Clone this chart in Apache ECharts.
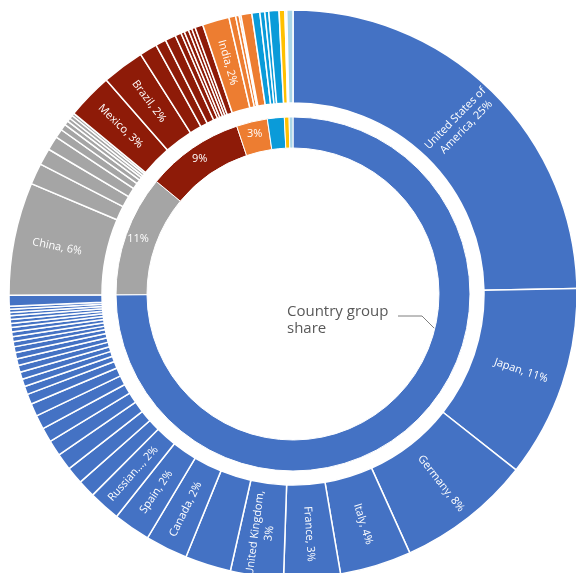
<!DOCTYPE html>
<html><head><meta charset="utf-8">
<script src="https://cdn.jsdelivr.net/npm/echarts@6/dist/echarts.min.js"></script>
<style>html,body{margin:0;padding:0;background:#fff}#c{width:576px;height:573px}</style>
</head><body><div id="c"></div>
<script>
// ---- data (outer ring, clockwise from 12 o'clock) ----
const blueNames = ['United States of America','Japan','Germany','Italy','France','United Kingdom','b7','Canada','Spain','Russian Federation',
  'b11','b12','b13','b14','b15','b16','b17','b18','b19','b20','b21','b22','b23','b24','b25','b26','b27','b28','b29','b30','b31','b32','b33','b34','b35','b36'];
const blueValues = [24.6,10.9,7.6,4.05,3.2,3.0,2.6,2.4,2.1,1.8,
  1.0,0.98,0.95,0.9,0.82,0.8,0.72,0.58,0.47,0.42,0.41,0.39,0.38,0.36,0.33,0.29,0.28,0.27,0.25,0.23,0.22,0.21,0.19,0.18,0.17,0.61];
const grayNames = ['China','g2','g3','g4','g5','g6','g7','g8','g9','g10'];
const grayValues = [6.4,1.2,0.95,0.8,0.5,0.35,0.25,0.2,0.2,0.15];
const redNames = ['Mexico','Brazil','r3','r4','r5','r6','r7','r8','r9','r10','r11'];
const redValues = [2.6,2.4,1.0,0.6,0.6,0.35,0.2,0.25,0.2,0.2,0.45];
const orangeNames = ['India','o2','o3','o4','o5'];
const orangeValues = [1.52,0.38,0.2,0.1,0.62];
const lblueNames = ['l1','l2','l3','l4'];
const lblueValues = [0.45,0.28,0.22,0.58];
const yellowNames = ['y1','y2'];
const yellowValues = [0.33,0.1];
const paleNames = ['p1'];
const paleValues = [0.35];
const labeledCountries = ['United States of America','Japan','Germany','Italy','France','United Kingdom','Canada','Spain','Russian Federation','China','Mexico','Brazil','India'];
const shortNames = {'Russian Federation':'Russian...'};
const groupLabeled = [true,true,true,true,false,false,false];

// ---- build ----
const groups = [
  {name:'Group 1', color:'#4472C4', names:blueNames, values:blueValues},
  {name:'Group 2', color:'#A5A5A5', names:grayNames, values:grayValues},
  {name:'Group 3', color:'#8E1B08', names:redNames, values:redValues},
  {name:'Group 4', color:'#ED7D31', names:orangeNames, values:orangeValues},
  {name:'Group 5', color:'#0A9BD9', names:lblueNames, values:lblueValues},
  {name:'Group 6', color:'#FFC000', names:yellowNames, values:yellowValues, colors:['#FFC000','#FFE699']},
  {name:'Group 7', color:'#A9D5E8', names:paleNames, values:paleValues}
];
let total = 0;
groups.forEach(g => g.values.forEach(v => total += v));
const outerData = [], innerData = [];
groups.forEach((g, gi) => {
  let s = 0;
  g.values.forEach((v, i) => {
    s += v;
    const nm = g.names[i];
    outerData.push({name:nm, value:v,
      itemStyle:{color: g.colors ? g.colors[i] : g.color},
      label:{show: labeledCountries.indexOf(nm) >= 0}});
  });
  innerData.push({name:g.name, value:s, itemStyle:{color:g.color},
    label:{show: groupLabeled[gi] && gi !== 0}});
});
const pct = v => Math.round(v / total * 100);
const font = '"Open Sans", "Noto Sans", sans-serif';
const cx = 293, cy = 294;

const chart = echarts.init(document.getElementById('c'), null, {renderer:'canvas'});
const option = {
  animation:false,
  series:[
    { type:'pie', center:[cx, cy], radius:[146, 177], startAngle:90, clockwise:true,
      data:innerData, silent:true,
      itemStyle:{borderColor:'#fff', borderWidth:1},
      label:{position:'inside', color:'#fff', fontSize:11, fontFamily:font,
        formatter:p => pct(p.value) + '%'},
      labelLine:{show:false}
    },
    { type:'pie', center:[cx, cy], radius:[191, 284], startAngle:90, clockwise:true,
      data:outerData, silent:true,
      itemStyle:{borderColor:'#fff', borderWidth:1.5},
      label:{position:'inside', rotate:'radial', color:'#fff', fontSize:11, fontFamily:font,
        width:92, overflow:'break', align:'center', lineHeight:14,
        formatter:p => (shortNames[p.name] || p.name) + ', ' + pct(p.value) + '%'},
      labelLine:{show:false}
    }
  ]
};
chart.setOption(option);

// "75%" label for the first group and the series annotation
const blueShare = innerData[0].value / total;
const ang = (108.3) * Math.PI / 180;
const rl = 161.5;
chart.setOption({
  graphic:[
    {type:'text', x: cx + rl*Math.sin(ang), y: cy - rl*Math.cos(ang),
      style:{text: Math.round(blueShare*100) + '%', fill:'#fff', font:'11px ' + font, align:'center', verticalAlign:'middle'}},
    {type:'text', left:287, top:303,
      style:{text:'Country group\nshare', fill:'#595959', font:'15px ' + font, lineHeight:17}},
    {type:'polyline', shape:{points:[[398,316],[422,316],[435,329]]},
      style:{stroke:'#7f7f7f', lineWidth:1, fill:null}}
  ]
});
</script>
</body></html>
